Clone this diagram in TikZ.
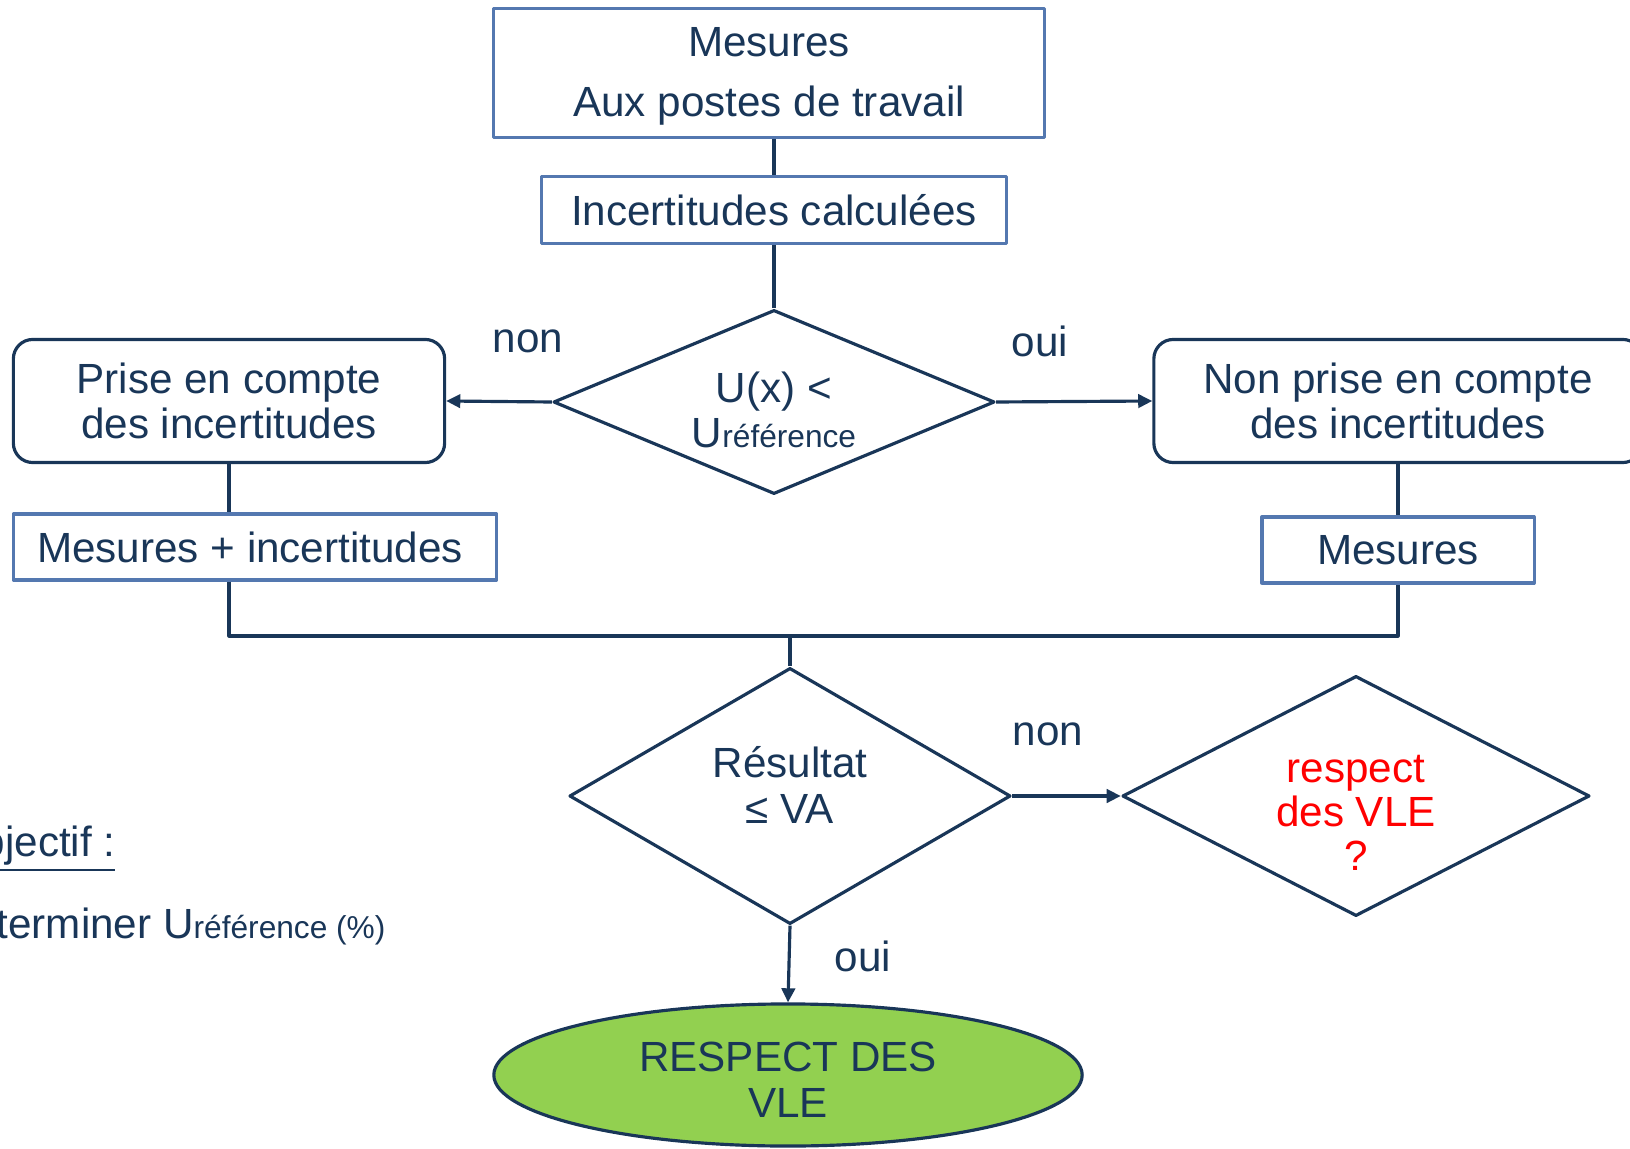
\documentclass[tikz,border=0pt]{standalone}
\usepackage{fontspec}
\setmainfont{Liberation Sans}
\usetikzlibrary{shapes.geometric,arrows.meta}
\definecolor{marine}{RGB}{25,54,88}
\definecolor{bleucadre}{RGB}{84,120,176}
\definecolor{vertok}{RGB}{146,208,80}
\begin{document}
\begin{tikzpicture}[x=0.01cm,y=-0.01cm,line join=round,>={Triangle[length=4pt,width=3.8pt]},line width=0.9pt]
			\tikzset{every node/.style={text=marine,font=\fontsize{12}{13}\selectfont,align=center,inner sep=0pt},
				cadre/.style={draw=bleucadre},
				arrondi/.style={draw=marine,rounded corners=5.5pt},
				losange/.style={draw=marine,diamond},
				lien/.style={draw=marine}}
			\useasboundingbox (0,0) rectangle (1630,1149);
			\clip (0,0) rectangle (1630,1149);
			% boites
			\node[cadre,minimum width=5.51cm,minimum height=1.29cm] (mesures) at (769,73) {};
			\node (mesures-txt) at (769,76) [font=\fontsize{12}{17}\selectfont] {Mesures\\Aux postes de travail};
			\node[cadre,minimum width=4.64cm,minimum height=0.67cm] (incert) at (774,210) {Incertitudes calculées};
			\node[losange,shape aspect=2.4,minimum width=4.41cm,minimum height=1.84cm] (testU) at (774,402) {};
			\node (testU-txt) at (774,410) {U(x) <\\U{\fontsize{9}{10}\selectfont référence}};
			\node[arrondi,minimum width=4.31cm,minimum height=1.23cm] (prise) at (229,401) {Prise en compte\\des incertitudes};
			\node[arrondi,minimum width=4.88cm,minimum height=1.23cm] (nonprise) at (1398,401) {Non prise en compte\\des incertitudes};
			\node[cadre,minimum width=4.83cm,minimum height=0.66cm] (mesinc) at (255,547) {};
			\node (mesinc-txt) at (250,547) {Mesures + incertitudes};
			\node[cadre,minimum width=2.72cm,minimum height=0.66cm] (mes) at (1398,550) {Mesures};
			\coordinate (jonction) at (790,636);
			\node[losange,minimum width=4.41cm,minimum height=2.56cm] (resultat) at (790,796) {};
			\node (resultat-txt) at (790,785) {Résultat\\≤ VA};
			\node[losange,shape aspect=1.95,minimum width=4.67cm,minimum height=2.40cm] (vle) at (1356,796) {};
			\node (vle-txt) at (1356,813) [text=red,font=\fontsize{12}{12.6}\selectfont] {respect\\des VLE\\?};
			\node[ellipse,draw=marine,fill=vertok,minimum width=5.88cm,minimum height=1.42cm] (respect) at (788,1075) {};
			\node (respect-txt) at (788,1080) {RESPECT DES\\VLE};
			% liens
			\draw[lien] (incert.north) -- (incert.north |- mesures.south);
			\draw[lien] (incert) -- (testU);
			\draw[lien,->] (testU.west) -- (prise.east);
			\draw[lien,->] (testU.east) -- (nonprise.west);
			\draw[lien] (prise) -- (prise.south |- mesinc.north);
			\draw[lien] (nonprise) -- (mes);
			\draw[lien] (prise.south |- mesinc.south) |- (jonction) -| (mes.south);
			\draw[lien] (jonction) -- (resultat);
			\draw[lien,->] (resultat.east) -- (vle.west);
			\draw[lien,->] (resultat.south) -- (respect.north);
			% etiquettes
			\node (non1) at (528,341) {non};
			\node (oui1) at (1040,341) {oui};
			\node (non2) at (1048,734) {non};
			\node (oui2) at (863,956) {oui};
			\node[anchor=east] (objectif) at (117,849) {\underline{Objectif :}};
			\node[anchor=east] (determiner) at (387,926) {Déterminer U{\fontsize{9}{10}\selectfont référence (\%)}};
	\end{tikzpicture}
\end{document}
